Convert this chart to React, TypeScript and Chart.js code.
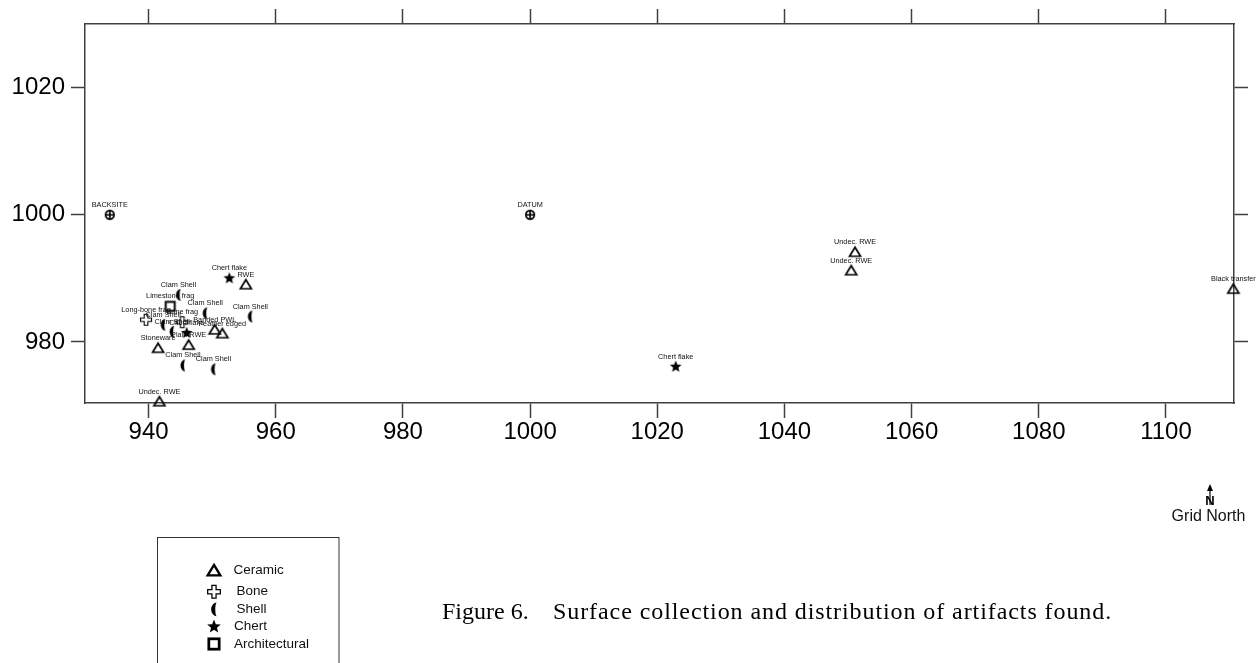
import { useEffect, useRef } from 'react';
import { Chart, registerables } from 'chart.js';

Chart.register(...registerables);

// ---------- data ----------
const xTicks = [940, 960, 980, 1000, 1020, 1040, 1060, 1080, 1100];
const yTicks = [980, 1000, 1020];

type Pt = [number, number, string];

const datumPoints: Pt[] = [
  [933.9, 1000, 'BACKSITE'],
  [1000, 1000, 'DATUM'],
];

const ceramicPoints: Pt[] = [
  [1051.1, 994.1, 'Undec. RWE'],
  [1050.5, 991.2, 'Undec. RWE'],
  [1110.6, 988.3, 'Black transfer'],
  [941.7, 970.6, 'Undec. RWE'],
  [955.3, 989.0, 'RWE'],
  [950.4, 981.9, 'Banded PWL'],
  [951.6, 981.3, 'Feather edged'],
  [946.3, 979.5, 'Plain RWE'],
  [941.5, 979.0, 'Stoneware'],
];

const bonePoints: Pt[] = [
  [939.6, 983.5, 'Long-bone frag'],
  [945.3, 983.1, 'Bone frag'],
];

const shellPoints: Pt[] = [
  [944.7, 987.4, 'Clam Shell'],
  [948.9, 984.5, 'Clam Shell'],
  [956.0, 984.0, 'Clam Shell'],
  [942.3, 982.7, 'Clam Shell'],
  [943.7, 981.6, 'Clam Shell'],
  [945.4, 976.3, 'Clam Shell'],
  [950.2, 975.7, 'Clam Shell'],
];

const chertPoints: Pt[] = [
  [952.7, 990.0, 'Chert flake'],
  [1022.9, 976.1, 'Chert flake'],
  [946.0, 981.4, 'Chert flake'],
];

const archPoints: Pt[] = [
  [943.4, 985.6, 'Limestone frag'],
];

const legendNames = ['Ceramic', 'Bone', 'Shell', 'Chert', 'Architectural'];
const legendKinds = ['ceramic', 'bone', 'shell', 'chert', 'arch'];
const captionLead = 'Figure 6.';
const captionRest = 'Surface collection and distribution of artifacts found.';
const northLabel = 'Grid North';

// ---------- symbols ----------
function drawSymbol(ctx: CanvasRenderingContext2D, kind: string, cx: number, cy: number, s = 1, bold = 1) {
  ctx.save();
  ctx.translate(cx, cy);
  ctx.scale(s, s);
  ctx.strokeStyle = '#000';
  ctx.fillStyle = '#000';
  ctx.lineJoin = 'miter';
  switch (kind) {
    case 'datum': {
      ctx.lineWidth = 1.7;
      ctx.beginPath();
      ctx.arc(0, 0, 4.3, 0, Math.PI * 2);
      ctx.stroke();
      ctx.beginPath();
      ctx.moveTo(-4.3, 0);
      ctx.lineTo(4.3, 0);
      ctx.moveTo(0, -4.3);
      ctx.lineTo(0, 4.3);
      ctx.stroke();
      break;
    }
    case 'ceramic': {
      ctx.lineWidth = 1.7 * bold;
      ctx.beginPath();
      ctx.moveTo(0, -5);
      ctx.lineTo(5.5, 4);
      ctx.lineTo(-5.5, 4);
      ctx.closePath();
      ctx.stroke();
      break;
    }
    case 'bone': {
      const a = 1.8;
      const L = 5.5;
      ctx.lineWidth = 1.1;
      ctx.beginPath();
      ctx.moveTo(-a, -L);
      ctx.lineTo(a, -L);
      ctx.lineTo(a, -a);
      ctx.lineTo(L, -a);
      ctx.lineTo(L, a);
      ctx.lineTo(a, a);
      ctx.lineTo(a, L);
      ctx.lineTo(-a, L);
      ctx.lineTo(-a, a);
      ctx.lineTo(-L, a);
      ctx.lineTo(-L, -a);
      ctx.lineTo(-a, -a);
      ctx.closePath();
      ctx.stroke();
      break;
    }
    case 'shell': {
      ctx.beginPath();
      ctx.ellipse(2.5, 0, 5, 6, 0, Math.PI / 2, (3 * Math.PI) / 2);
      ctx.ellipse(2.5, 0, 1.4, 6, 0, (3 * Math.PI) / 2, Math.PI / 2, true);
      ctx.closePath();
      ctx.fill();
      break;
    }
    case 'chert': {
      const R = 6.2;
      const r = 2.7;
      ctx.beginPath();
      for (let i = 0; i < 10; i++) {
        const ang = -Math.PI / 2 + (i * Math.PI) / 5;
        const rad = i % 2 === 0 ? R : r;
        const px = Math.cos(ang) * rad;
        const py = Math.sin(ang) * rad;
        if (i === 0) ctx.moveTo(px, py);
        else ctx.lineTo(px, py);
      }
      ctx.closePath();
      ctx.fill();
      break;
    }
    case 'arch': {
      ctx.lineWidth = 2 * bold;
      ctx.strokeRect(-4.5, -4.5, 9, 9);
      break;
    }
  }
  ctx.restore();
}

function makeMarker(kind: string): HTMLCanvasElement {
  const c = document.createElement('canvas');
  c.width = 18;
  c.height = 18;
  const ctx = c.getContext('2d')!;
  drawSymbol(ctx, kind, 9, 9);
  return c;
}

const FONT_SANS = "'Liberation Sans', Arial, sans-serif";
const FONT_SERIF = "'Liberation Serif', 'Times New Roman', serif";
const AXIS_COLOR = '#404040';

const extrasPlugin = {
  id: 'extras',
  afterDatasetsDraw(chart: any) {
    const ctx: CanvasRenderingContext2D = chart.ctx;
    ctx.save();
    ctx.font = `7.3px ${FONT_SANS}`;
    ctx.fillStyle = '#111';
    ctx.textAlign = 'center';
    ctx.textBaseline = 'middle';
    chart.data.datasets.forEach((ds: any, i: number) => {
      const meta = chart.getDatasetMeta(i);
      meta.data.forEach((el: any, j: number) => {
        const lab = ds.pointNames[j];
        ctx.fillText(lab, el.x, el.y - 10);
      });
    });
    ctx.restore();
  },
  afterDraw(chart: any) {
    const ctx: CanvasRenderingContext2D = chart.ctx;
    ctx.save();
    // legend box
    ctx.strokeStyle = '#333';
    ctx.lineWidth = 1;
    ctx.strokeRect(157.5, 537.5, 181.5, 140);
    const ys = [570.7, 591.7, 609.3, 626.7, 644];
    const tx = [233.5, 236.5, 236.5, 234, 234];
    ctx.font = `13.5px ${FONT_SANS}`;
    ctx.fillStyle = '#111';
    ctx.textAlign = 'left';
    ctx.textBaseline = 'middle';
    legendNames.forEach((name, i) => {
      drawSymbol(ctx, legendKinds[i], 214, ys[i], 1.15, 1.2);
      ctx.fillText(name, tx[i], ys[i]);
    });
    // caption
    ctx.font = `24px ${FONT_SERIF}`;
    ctx.fillStyle = '#000';
    ctx.textBaseline = 'alphabetic';
    ctx.fillText(captionLead, 442, 619);
    const natural = ctx.measureText(captionRest).width;
    const target = 1112 - 553;
    const ls = Math.max(0, (target - natural) / captionRest.length);
    (ctx as any).letterSpacing = `${ls.toFixed(2)}px`;
    ctx.fillText(captionRest, 553, 619);
    (ctx as any).letterSpacing = '0px';
    // north arrow
    ctx.strokeStyle = '#000';
    ctx.fillStyle = '#000';
    ctx.lineWidth = 1.2;
    ctx.beginPath();
    ctx.moveTo(1210, 488);
    ctx.lineTo(1210, 505);
    ctx.stroke();
    ctx.beginPath();
    ctx.moveTo(1210, 484);
    ctx.lineTo(1207, 491);
    ctx.lineTo(1213, 491);
    ctx.closePath();
    ctx.fill();
    ctx.font = `bold 13px ${FONT_SANS}`;
    ctx.textAlign = 'center';
    ctx.textBaseline = 'alphabetic';
    ctx.fillText('N', 1210, 505);
    ctx.font = `16px ${FONT_SANS}`;
    ctx.fillStyle = '#111';
    ctx.fillText(northLabel, 1208.5, 521);
    ctx.restore();
  },
};

function toData(pts: Pt[]) {
  return pts.map((p) => ({ x: p[0], y: p[1] }));
}

export default function App() {
  const ref = useRef<HTMLCanvasElement | null>(null);

  useEffect(() => {
    if (!ref.current) return;
    const groups: [string, Pt[]][] = [
      ['datum', datumPoints],
      ['ceramic', ceramicPoints],
      ['bone', bonePoints],
      ['shell', shellPoints],
      ['chert', chertPoints],
      ['arch', archPoints],
    ];
    const datasets = groups.map(([kind, pts]) => ({
      label: kind,
      data: toData(pts),
      pointNames: pts.map((p) => p[2]),
      pointStyle: makeMarker(kind),
      pointRadius: 6,
      showLine: false,
      clip: false as any,
    }));

    const gridOpts = {
      display: true,
      drawOnChartArea: false,
      drawTicks: true,
      tickLength: 15,
      tickColor: AXIS_COLOR,
      tickWidth: 1.5,
      color: AXIS_COLOR,
    };
    const borderOpts = { display: true, color: AXIS_COLOR, width: 1.5 };
    const tickFont = { family: FONT_SANS, size: 24 };
    const plain = (v: any) => String(v);

    const chart = new Chart(ref.current, {
      type: 'scatter',
      data: { datasets: datasets as any },
      plugins: [extrasPlugin],
      options: {
        animation: false,
        responsive: false,
        layout: { padding: 0 },
        plugins: { legend: { display: false }, tooltip: { enabled: false } },
        scales: {
          x: {
            type: 'linear',
            position: 'bottom',
            min: 930,
            max: 1110.7,
            grid: gridOpts,
            border: borderOpts,
            ticks: { font: tickFont, color: '#000', padding: 0, maxRotation: 0, callback: plain },
            afterBuildTicks: (axis: any) => {
              axis.ticks = xTicks.map((v) => ({ value: v }));
            },
            afterFit: (axis: any) => {
              axis.height = 260;
            },
          },
          x2: {
            type: 'linear',
            position: 'top',
            min: 930,
            max: 1110.7,
            grid: gridOpts,
            border: borderOpts,
            ticks: { display: false },
            afterBuildTicks: (axis: any) => {
              axis.ticks = xTicks.map((v) => ({ value: v }));
            },
            afterFit: (axis: any) => {
              axis.height = 24;
            },
          },
          y: {
            type: 'linear',
            position: 'left',
            min: 970.4,
            max: 1030,
            grid: { ...gridOpts, tickLength: 14 },
            border: borderOpts,
            ticks: { font: tickFont, color: '#000', padding: 6, callback: plain },
            afterBuildTicks: (axis: any) => {
              axis.ticks = yTicks.map((v) => ({ value: v }));
            },
            afterFit: (axis: any) => {
              axis.width = 85;
            },
          },
          y2: {
            type: 'linear',
            position: 'right',
            min: 970.4,
            max: 1030,
            grid: { ...gridOpts, tickLength: 14 },
            border: borderOpts,
            ticks: { display: false },
            afterBuildTicks: (axis: any) => {
              axis.ticks = yTicks.map((v) => ({ value: v }));
            },
            afterFit: (axis: any) => {
              axis.width = 26;
            },
          },
        },
      } as any,
    });
    return () => chart.destroy();
  }, []);

  return (
    <div style={{ position: 'absolute', left: 0, top: 0, width: 1260, height: 663, background: '#fff' }}>
      <canvas ref={ref} width={1260} height={663} style={{ display: 'block', width: 1260, height: 663 }} />
    </div>
  );
}
